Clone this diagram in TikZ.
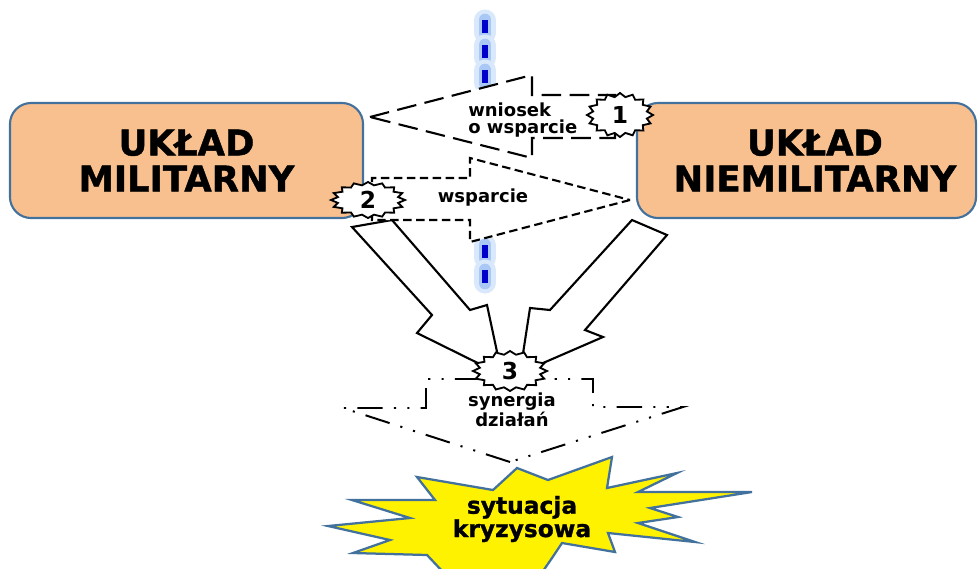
\documentclass[tikz,border=0pt]{standalone}
\usepackage{fontspec}
\setmainfont{DejaVu Sans}
\newfontfamily\heavyfont{DejaVu Sans Bold}[FakeBold=1.2]
\definecolor{peach}{RGB}{248,192,143}
\definecolor{frameblue}{RGB}{65,113,156}
\definecolor{glowout}{RGB}{218,232,252}
\definecolor{glowin}{RGB}{170,200,246}
\definecolor{dashblue}{RGB}{0,0,205}
\newcommand{\bigtxt}{\fontsize{25.2}{25.6}\selectfont\heavyfont}
\newcommand{\lbltxt}{\fontsize{12.8}{11.6}\selectfont\bfseries}
\newcommand{\numtxt}{\fontsize{16.6}{17}\selectfont\bfseries}
\newcommand{\crisistxt}{\fontsize{16.6}{16.6}\selectfont\heavyfont}
% zig-zag badge: name, x, y, half width, half height, label
\newcommand{\sealbadge}[6]{%
  \draw[seal] ({#2+#4},#3) \foreach \k in {1,...,31}{
    -- ({#2+#4*(1-0.17*mod(\k,2))*cos(11.25*\k)},{#3+#5*(1-0.17*mod(\k,2))*sin(11.25*\k)}) } -- cycle;
  \node[num] (#1) at (#2,#3) {#6};
}

\begin{document}
\begin{tikzpicture}[x=0.025cm,y=-0.025cm,
  box/.style={draw=frameblue,line width=1.5pt,fill=peach,rounded corners=15pt,
              align=center,inner sep=0pt,font=\bigtxt},
  reqarrow/.style={draw=black,fill=white,line width=1.5pt,dash pattern=on 14pt off 6pt},
  suparrow/.style={draw=black,fill=white,line width=1.5pt,dash pattern=on 6pt off 3.2pt},
  bigarrow/.style={draw=black,fill=white,line width=1.5pt},
  synarrow/.style={draw=black,fill=white,line width=1.4pt,
                   dash pattern=on 18pt off 8pt on 1.5pt off 8pt on 1.5pt off 8pt},
  seal/.style={draw=black,fill=white,line width=1.3pt},
  num/.style={font=\numtxt,inner sep=0pt},
  lbl/.style={font=\lbltxt,inner sep=0pt},
  crisis/.style={draw=frameblue,fill=yellow,line width=1.6pt,line join=miter}]
  \clip (0,0) rectangle (978,568);

  % blue dashed divider with glow
  \foreach \y in {20,45,70,245,270} {
    \draw[glowout,line width=15pt,line cap=round] (485,\y) -- (485,\y+13);
    \draw[glowin,line width=9pt,line cap=round] (485,\y) -- (485,\y+13);
    \draw[dashblue,line width=3.8pt] (485,\y) -- (485,\y+13);
  }

  % the two systems
  \node[box,minimum width=8.825cm,minimum height=2.875cm] (mil) at (186.5,160.5)
    {UKŁAD\\MILITARNY};
  \node[box,minimum width=8.475cm,minimum height=2.875cm] (nonmil) at (806.5,160.5)
    {\hspace*{12pt}UKŁAD\\\hspace*{12pt}NIEMILITARNY};

  % block arrows towards the common action
  \draw[bigarrow] (352,227) -- (392,220) -- (470,310) -- (487,305) -- (502,375)
    -- (417,333) -- (432,315) -- cycle;
  \draw[bigarrow] (632,220) -- (667,235) -- (585,330) -- (603,337) -- (520,373)
    -- (530,308) -- (550,310) -- cycle;

  % request and support
  \draw[reqarrow] (370,117) -- (532,75) -- (532,95) -- (615,95) -- (615,138)
    -- (532,138) -- (532,158) -- cycle;
  \draw[suparrow] (630,200) -- (470,242) -- (470,220) -- (372,220) -- (372,178)
    -- (470,178) -- (470,158) -- cycle;

  % synergy
  \draw[synarrow] (510,462) -- (343,408) -- (426,408) -- (426,379) -- (593,379)
    -- (593,407) -- (683,407) -- cycle;

  % crisis
  \draw[crisis] (517,468) -- (548,480) -- (612,457) -- (607,488) -- (677,473)
    -- (638,492) -- (752,492) -- (650,508) -- (678,517) -- (638,523) -- (695,542)
    -- (608,533) -- (615,552) -- (562,543) -- (552,558) -- (530,590) -- (460,590)
    -- (427,555) -- (353,553) -- (390,540) -- (328,526) -- (410,518) -- (352,500)
    -- (435,500) -- (417,477) -- (493,490) -- cycle;
  \node[font=\crisistxt,align=center,inner sep=0pt] (crisis) at (522,519)
    {sytuacja\\kryzysowa};

  \sealbadge{b1}{620}{115}{33}{22}{1}
  \sealbadge{b2}{368}{200}{37}{18}{2}
  \sealbadge{b3}{510}{371}{37}{20}{3}

  \node[lbl,align=left,anchor=west] (req) at (468,120) {wniosek\\o wsparcie};
  \node[lbl] (supp) at (483,198) {wsparcie};
  \node[lbl,align=center] (syn) at (512,410) {synergia\\działań};
\end{tikzpicture}
\end{document}
